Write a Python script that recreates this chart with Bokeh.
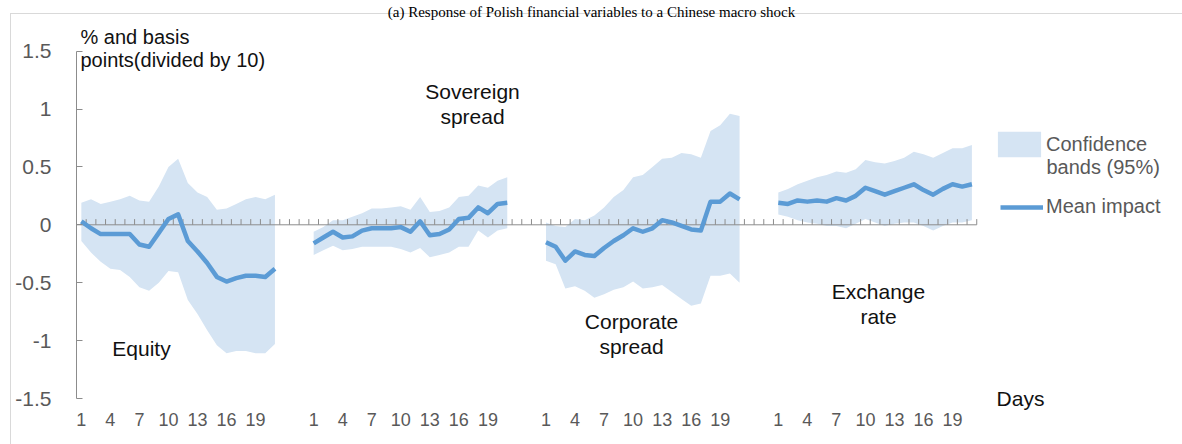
from bokeh.plotting import figure
from bokeh.models import Range1d, FixedTicker, Label, Legend, LegendItem
from bokeh.embed import file_html
from bokeh.resources import INLINE

# ---------------- data ----------------
days = list(range(1, 22))
tick_days = [1, 4, 7, 10, 13, 16, 19]
groups = ["Equity", "Sovereign spread", "Corporate spread", "Exchange rate"]

equity_mean = [0.03, -0.03, -0.08, -0.08, -0.08, -0.08, -0.17, -0.19, -0.07, 0.05, 0.09,
               -0.14, -0.23, -0.33, -0.45, -0.49, -0.46, -0.44, -0.44, -0.45, -0.38]
equity_high = [0.19, 0.22, 0.18, 0.20, 0.22, 0.25, 0.21, 0.20, 0.33, 0.50, 0.57,
               0.36, 0.28, 0.24, 0.13, 0.14, 0.18, 0.22, 0.24, 0.22, 0.26]
equity_low = [-0.14, -0.24, -0.32, -0.38, -0.39, -0.45, -0.54, -0.57, -0.50, -0.40, -0.41,
              -0.65, -0.77, -0.91, -1.04, -1.11, -1.09, -1.09, -1.11, -1.11, -1.03]

sovereign_mean = [-0.16, -0.11, -0.06, -0.11, -0.10, -0.05, -0.03, -0.03, -0.03, -0.02, -0.06,
                  0.03, -0.09, -0.08, -0.04, 0.05, 0.06, 0.15, 0.10, 0.18, 0.19]
sovereign_high = [-0.06, -0.02, 0.04, 0.04, 0.07, 0.10, 0.14, 0.14, 0.15, 0.16, 0.13,
                  0.24, 0.11, 0.12, 0.15, 0.24, 0.25, 0.34, 0.32, 0.38, 0.41]
sovereign_low = [-0.26, -0.22, -0.18, -0.22, -0.21, -0.19, -0.19, -0.19, -0.19, -0.21, -0.24,
                 -0.20, -0.28, -0.26, -0.24, -0.19, -0.19, -0.05, -0.11, -0.05, -0.03]

corporate_mean = [-0.15, -0.19, -0.31, -0.23, -0.26, -0.27, -0.20, -0.14, -0.09, -0.03, -0.06,
                  -0.03, 0.04, 0.02, -0.01, -0.04, -0.05, 0.20, 0.20, 0.27, 0.22]
corporate_high = [0.02, -0.01, -0.02, 0.05, 0.04, 0.08, 0.15, 0.24, 0.30, 0.41, 0.43,
                  0.50, 0.57, 0.58, 0.62, 0.61, 0.58, 0.81, 0.86, 0.96, 0.94]
corporate_low = [-0.31, -0.34, -0.55, -0.53, -0.57, -0.63, -0.60, -0.56, -0.54, -0.49, -0.55,
                 -0.54, -0.52, -0.58, -0.64, -0.70, -0.68, -0.44, -0.44, -0.42, -0.50]

exchange_mean = [0.19, 0.18, 0.21, 0.20, 0.21, 0.20, 0.23, 0.21, 0.25, 0.32, 0.29,
                 0.26, 0.29, 0.32, 0.35, 0.30, 0.26, 0.31, 0.35, 0.33, 0.35]
exchange_high = [0.28, 0.31, 0.35, 0.38, 0.41, 0.43, 0.46, 0.45, 0.48, 0.56, 0.54,
                 0.53, 0.55, 0.58, 0.63, 0.61, 0.58, 0.62, 0.66, 0.66, 0.69]
exchange_low = [0.09, 0.07, 0.04, 0.02, 0.01, -0.01, -0.01, -0.03, 0.01, 0.05, 0.02,
                -0.01, 0.01, 0.02, 0.02, -0.01, -0.05, -0.01, 0.02, 0.02, 0.04]

y_ticks = [-1.5, -1, -0.5, 0, 0.5, 1, 1.5]
y_tick_labels = ["-1.5", "-1", "-0.5", "0", "0.5", "1", "1.5"]

series = [
    (equity_mean, equity_low, equity_high),
    (sovereign_mean, sovereign_low, sovereign_high),
    (corporate_mean, corporate_low, corporate_high),
    (exchange_mean, exchange_low, exchange_high),
]

# ---------------- layout / style ----------------
W, H = 1182, 444
FRAME_LEFT = 76
FRAME_BOTTOM = 410          # pixel row of the frame's bottom edge
PX_PER_CAT = 9.68
PX_PER_UNIT = 115.8
ZERO_PX = 224.3             # pixel row of y = 0
GAP = 3
GROUP_STEP = len(days) + GAP
N_CAT = len(groups) * GROUP_STEP - GAP

Y_MAX = ZERO_PX / PX_PER_UNIT
Y_MIN = (ZERO_PX - FRAME_BOTTOM) / PX_PER_UNIT
X_MAX = (W - FRAME_LEFT) / PX_PER_CAT

BAND = "#d5e4f3"
LINE = "#5b9bd5"
AXIS = "#8c8c8c"
TICK_TXT = "#595959"
FONT = "Liberation Sans"


def dx(px):
    return (px - FRAME_LEFT) / PX_PER_CAT


def dy(py):
    return (ZERO_PX - py) / PX_PER_UNIT


p = figure(width=W, height=H, x_range=Range1d(0, X_MAX), y_range=Range1d(Y_MIN, Y_MAX),
           output_backend="svg", toolbar_location=None,
           min_border_left=FRAME_LEFT, min_border_right=0, min_border_top=0,
           min_border_bottom=H - FRAME_BOTTOM)
p.xgrid.visible = False
p.ygrid.visible = False
p.outline_line_color = None
p.background_fill_alpha = 0
p.border_fill_alpha = 0
p.styles = {
    "background": "linear-gradient(#d9d9d9, #d9d9d9) 10px 13px / 1px 431px no-repeat, "
                  "linear-gradient(#d9d9d9, #d9d9d9) 10px 13px / 1172px 1px no-repeat, #ffffff",
}

band_renderers = []
line_renderers = []
for k, (mean, low, high) in enumerate(series):
    xs = [k * GROUP_STEP + d - 0.5 for d in days]
    band_renderers.append(p.varea(x=xs, y1=low, y2=high, fill_color=BAND))

# category axis through zero with inner tick marks
p.segment(x0=[0], y0=[0], x1=[N_CAT], y1=[0], line_color=AXIS, line_width=1)
tick_pos = list(range(1, N_CAT + 1))
p.segment(x0=tick_pos, y0=[0] * len(tick_pos), x1=tick_pos,
          y1=[5.7 / PX_PER_UNIT] * len(tick_pos), line_color=AXIS, line_width=1)

for k, (mean, low, high) in enumerate(series):
    xs = [k * GROUP_STEP + d - 0.5 for d in days]
    line_renderers.append(p.line(xs, mean, line_color=LINE, line_width=4.5,
                                 line_join="round", line_cap="butt"))

# y axis
p.yaxis.ticker = FixedTicker(ticks=y_ticks)
p.yaxis.major_label_overrides = dict(zip(y_ticks, y_tick_labels))
p.yaxis.bounds = (-1.5, 1.5)
p.yaxis.axis_line_color = AXIS
p.yaxis.major_tick_line_color = AXIS
p.yaxis.major_tick_in = 6
p.yaxis.major_tick_out = 0
p.yaxis.minor_tick_line_color = None
p.yaxis.major_label_text_font = FONT
p.yaxis.major_label_text_font_size = "21px"
p.yaxis.major_label_text_color = TICK_TXT
p.yaxis.major_label_standoff = 25

# x axis labels (low position)
x_ticks = []
x_labels = {}
for k in range(len(groups)):
    for d in tick_days:
        t = k * GROUP_STEP + d - 0.5
        x_ticks.append(t)
        x_labels[t] = str(d)
p.xaxis.ticker = FixedTicker(ticks=x_ticks)
p.xaxis.major_label_overrides = x_labels
p.xaxis.axis_line_color = None
p.xaxis.major_tick_line_color = None
p.xaxis.major_tick_in = 0
p.xaxis.major_tick_out = 0
p.xaxis.minor_tick_line_color = None
p.xaxis.major_label_text_font = FONT
p.xaxis.major_label_text_font_size = "18px"
p.xaxis.major_label_text_color = TICK_TXT
p.xaxis.major_label_standoff = 2


# texts
def add_text(txt, px, py, align="center", size="21px", color="#111111", font=FONT,
             baseline="middle"):
    p.add_layout(Label(x=dx(px), y=dy(py), text=txt, text_align=align,
                       text_baseline=baseline, text_font=font, text_font_size=size,
                       text_color=color))


add_text("(a) Response of Polish financial variables to a Chinese macro shock", 591, 11,
         size="15px", font="Liberation Serif", baseline="alphabetic", color="#000000")
add_text("% and basis", 80, 36, align="left", size="20px")
add_text("points(divided by 10)", 80, 59, align="left", size="20px")
add_text("Sovereign", 472, 91)
add_text("spread", 472, 116)
add_text("Equity", 141, 348)
add_text("Corporate", 631, 321)
add_text("spread", 631, 346)
add_text("Exchange", 878, 291)
add_text("rate", 878, 316)
add_text("Days", 1020, 398)
add_text("bands (95%)", 1046, 166, align="left", size="20px", color=TICK_TXT)

# legend
leg1 = Legend(items=[LegendItem(label="Confidence", renderers=[band_renderers[0]])],
              location=(992 - FRAME_LEFT, FRAME_BOTTOM - 160),
              glyph_width=54, glyph_height=32, label_standoff=0,
              label_text_font=FONT, label_text_font_size="20px",
              label_text_color=TICK_TXT, padding=0, margin=0, spacing=0,
              border_line_color=None, background_fill_alpha=0)
leg2 = Legend(items=[LegendItem(label="Mean impact", renderers=[line_renderers[0]])],
              location=(1000 - FRAME_LEFT, FRAME_BOTTOM - 218),
              glyph_width=43, glyph_height=22, label_standoff=3,
              label_text_font=FONT, label_text_font_size="20px",
              label_text_color=TICK_TXT, padding=0, margin=0, spacing=0,
              border_line_color=None, background_fill_alpha=0)
p.add_layout(leg1, "center")
p.add_layout(leg2, "center")

open("out.html", "w").write(file_html(p, INLINE))
